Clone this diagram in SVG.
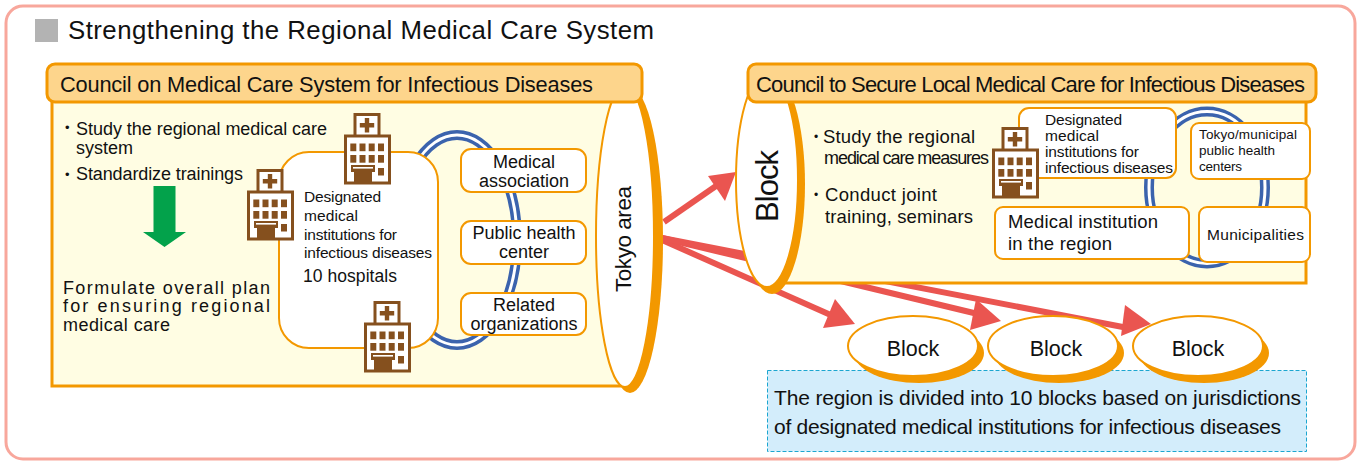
<svg xmlns="http://www.w3.org/2000/svg" width="1357" height="461" viewBox="0 0 1357 461">
<style>
text{font-family:"Liberation Sans",Arial,sans-serif;fill:#111}
.panel{fill:#fffde3;stroke:#f39800;stroke-width:3}
.head{fill:#fdd58c;stroke:#f39800;stroke-width:3}
.box{fill:#fff;stroke:#f39800;stroke-width:2}
.or{fill:#f39800}
.ell{fill:#fff;stroke:#f39800;stroke-width:2}
.ringo{fill:none;stroke:#3b63ad;stroke-width:10}
.ringi{fill:none;stroke:#fff;stroke-width:3}
.ar{stroke:#ea5550;stroke-width:6;fill:none}
.arh{fill:#ea5550}
.br{fill:#85501e}
.wh{fill:#fff}
.c{text-anchor:middle}
</style>
<defs>
<g id="hosp">
<rect class="br" x="9.5" y="0" width="27" height="24"/>
<rect class="wh" x="12.500" y="3" width="21" height="19"/>
<path class="br" d="M20.800 5h4.400v5h5v4.400h-5v5h-4.400v-5h-5v-4.400h5z"/>
<rect class="br" x="0" y="21.5" width="47" height="50"/>
<rect class="wh" x="3" y="24.500" width="41" height="44"/>
<g class="br">
<rect x="6.300" y="30.500" width="6" height="7.700"/><rect x="15.500" y="30.500" width="6" height="7.700"/><rect x="24.700" y="30.500" width="6" height="7.700"/><rect x="34" y="30.500" width="6" height="7.700"/>
<rect x="6.300" y="42" width="6" height="7.700"/><rect x="15.500" y="42" width="6" height="7.700"/><rect x="24.700" y="42" width="6" height="7.700"/><rect x="34" y="42" width="6" height="7.700"/>
<rect x="34" y="55" width="6" height="7.500"/>
<rect x="7" y="52" width="24" height="7"/>
<rect x="10" y="59" width="18" height="10"/>
</g>
<rect class="wh" x="9" y="54" width="20" height="1.600"/>
</g>
</defs>
<rect id="frame" x="6" y="6" width="1349" height="453" rx="17" fill="#fff" stroke="#f8a79c" stroke-width="3"/>
<g id="title">
<rect x="35" y="19" width="23" height="23" fill="#b3b3b3"/>
<text x="68" y="39" font-size="25.800" textLength="586">Strengthening the Regional Medical Care System</text>
</g>
<g id="note">
<rect x="767.500" y="370.500" width="539" height="81" fill="#d3edfb" stroke="#1ba6d0" stroke-width="1" stroke-dasharray="4 2"/>
<text x="774" y="405" font-size="21" textLength="527">The region is divided into 10 blocks based on jurisdictions</text>
<text x="774" y="434" font-size="21" textLength="507">of designated medical institutions for infectious diseases</text>
</g>
<g id="connectors">
<path class="ar" d="M664 222L716 186"/><polygon class="arh" points="736,172 725,201 708,176"/>
<path class="ar" d="M662 240L833 316"/><polygon class="arh" points="855,324 823,328 835,299"/>
<path class="ar" d="M662 238L978 314"/><polygon class="arh" points="1001,321 970,330 976,299"/>
<path class="ar" d="M662 238L1128 328"/><polygon class="arh" points="1151,324 1121,336 1125,305"/>
</g>
<g id="council-left">
<rect class="panel" x="52" y="95" width="585" height="291"/>
<ellipse class="or" cx="630" cy="240" rx="33" ry="153"/>
<ellipse class="ell" cx="625" cy="236" rx="29" ry="151"/>
<rect class="head" x="47" y="64" width="595" height="38" rx="8"/>
<text x="60" y="92" font-size="21.800" textLength="533">Council on Medical Care System for Infectious Diseases</text>
<text transform="translate(631 292) rotate(-90)" font-size="22.500" textLength="106">Tokyo area</text>
<text x="65" y="132" font-size="13">•</text>
<text x="76" y="135" font-size="18" textLength="251">Study the regional medical care</text>
<text x="76" y="154" font-size="18" textLength="57">system</text>
<text x="65" y="179" font-size="13">•</text>
<text x="76" y="180" font-size="18" textLength="167">Standardize trainings</text>
<polygon points="153.500,186 175.500,186 175.500,232 186,232 164.500,247 143,232 153.500,232" fill="#03a24b"/>
<text x="63" y="294" font-size="18" textLength="207">Formulate overall plan</text>
<text x="63" y="312" font-size="18" textLength="207">for ensuring regional</text>
<text x="63" y="331" font-size="18" textLength="107">medical care</text>
</g>
<g id="ring-left">
<ellipse class="ringo" cx="457" cy="240" rx="60" ry="105"/>
<ellipse class="ringi" cx="457" cy="240" rx="60" ry="105"/>
</g>
<g id="designated-left">
<rect class="box" x="279" y="152" width="159" height="196" rx="30"/>
<use href="#hosp" x="344" y="113"/>
<use href="#hosp" x="247" y="169"/>
<use href="#hosp" x="364" y="301"/>
<text x="304" y="202" font-size="15.500" textLength="77">Designated</text>
<text x="304" y="221" font-size="15.500" textLength="54">medical</text>
<text x="304" y="240" font-size="15.500" textLength="93">institutions for</text>
<text x="304" y="258" font-size="15.500" textLength="128">infectious diseases</text>
<text x="303" y="282" font-size="17.500" textLength="94">10 hospitals</text>
</g>
<g id="medical-association">
<rect class="box" x="461" y="149" width="125" height="43" rx="10"/>
<text class="c" x="524" y="168" font-size="18">Medical</text><text class="c" x="524" y="187" font-size="18">association</text>
</g>
<g id="public-health-center">
<rect class="box" x="461" y="221" width="125" height="43" rx="10"/>
<text class="c" x="524" y="239" font-size="18">Public health</text><text class="c" x="524" y="258" font-size="18">center</text>
</g>
<g id="related-organizations">
<rect class="box" x="461" y="293" width="125" height="42" rx="10"/>
<text class="c" x="524" y="311" font-size="18">Related</text><text class="c" x="524" y="330" font-size="18">organizations</text>
</g>
<g id="council-right">
<rect class="panel" x="775" y="95" width="531" height="188"/>
<ellipse class="or" cx="772" cy="184" rx="33" ry="110"/>
<ellipse class="ell" cx="767" cy="180" rx="31" ry="107"/>
<rect class="head" x="748" y="64" width="568" height="38" rx="8"/>
<text x="756" y="92" font-size="22" textLength="549">Council to Secure Local Medical Care for Infectious Diseases</text>
<text transform="translate(778 222) rotate(-90)" font-size="31" textLength="72">Block</text>
<text x="814" y="140.500" font-size="12">•</text>
<text x="823" y="143" font-size="18.500" textLength="152">Study the regional</text>
<text x="824" y="164" font-size="18" textLength="165">medical care measures</text>
<text x="814" y="198.500" font-size="12">•</text>
<text x="825" y="201" font-size="18.500" textLength="112">Conduct joint</text>
<text x="825" y="223" font-size="18.500" textLength="148">training, seminars</text>
</g>
<g id="ring-right">
<ellipse class="ringo" cx="1207" cy="187.500" rx="58" ry="76"/>
<ellipse class="ringi" cx="1207" cy="187.500" rx="58" ry="76"/>
</g>
<g id="designated-right">
<rect class="box" x="1019" y="108" width="157" height="70" rx="10"/>
<use href="#hosp" x="992" y="127"/>
<text x="1045" y="125" font-size="15.500" textLength="77">Designated</text>
<text x="1045" y="141" font-size="15.500" textLength="54">medical</text>
<text x="1045" y="157" font-size="15.500" textLength="94">institutions for</text>
<text x="1045" y="173" font-size="15.500" textLength="128">infectious diseases</text>
</g>
<g id="public-health-centers">
<rect class="box" x="1191" y="123" width="119" height="56" rx="8"/>
<text x="1199" y="139" font-size="13.500" textLength="98">Tokyo/municipal</text>
<text x="1199" y="155" font-size="13.500" textLength="76">public health</text>
<text x="1199" y="171" font-size="13.500" textLength="43">centers</text>
</g>
<g id="medical-institution">
<rect class="box" x="995" y="207" width="194" height="52" rx="8"/>
<text x="1008" y="228" font-size="18.500" textLength="150">Medical institution</text>
<text x="1008" y="250" font-size="18.500" textLength="104">in the region</text>
</g>
<g id="municipalities">
<rect class="box" x="1199" y="207" width="111" height="55" rx="8"/>
<text x="1207" y="240" font-size="15.500" textLength="97">Municipalities</text>
</g>
<g id="block-1"><ellipse class="or" cx="919" cy="353" rx="65" ry="30"/><ellipse class="ell" cx="913" cy="346" rx="65" ry="30"/><text class="c" x="913" y="356" font-size="21.500">Block</text></g>
<g id="block-2"><ellipse class="or" cx="1059" cy="353" rx="65" ry="30"/><ellipse class="ell" cx="1053" cy="346" rx="65" ry="30"/><text class="c" x="1056" y="356" font-size="21.500">Block</text></g>
<g id="block-3"><ellipse class="or" cx="1204" cy="353" rx="65" ry="30"/><ellipse class="ell" cx="1198" cy="346" rx="65" ry="30"/><text class="c" x="1198" y="356" font-size="21.500">Block</text></g>
</svg>
